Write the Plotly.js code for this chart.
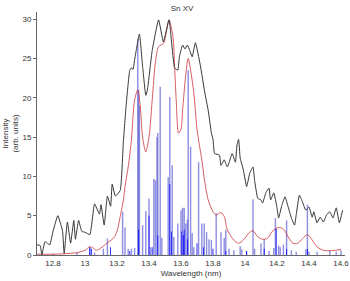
<!DOCTYPE html>
<html>
<head>
<meta charset="utf-8">
<script src="https://cdn.plot.ly/plotly-3.0.1.min.js"></script>
<style>html,body{margin:0;padding:0;background:#fff}#chart{width:350px;height:281px}</style>
</head>
<body>
<div id="chart"></div>
<script>
// Experimental spectrum (black)
const expWavelength = [12.70,12.72,12.73,12.75,12.77,12.78,12.80,12.83,12.85,12.86,12.87,12.89,12.91,12.93,12.94,12.96,12.98,13.00,13.03,13.06,13.09,13.10,13.12,13.14,13.16,13.17,13.19,13.22,13.24,13.26,13.28,13.29,13.30,13.31,13.34,13.36,13.38,13.39,13.42,13.46,13.49,13.525,13.56,13.58,13.59,13.61,13.625,13.64,13.655,13.67,13.69,13.72,13.75,13.77,13.79,13.80,13.81,13.84,13.85,13.87,13.89,13.92,13.94,13.95,13.96,13.97,13.99,14.01,14.03,14.05,14.06,14.08,14.10,14.11,14.13,14.15,14.16,14.18,14.20,14.21,14.23,14.25,14.27,14.29,14.31,14.32,14.34,14.36,14.38,14.40,14.42,14.43,14.45,14.47,14.49,14.51,14.53,14.55,14.57,14.59,14.61];
const expIntensity = [1.3,1.2,0.0,1.7,1.4,1.3,3.0,5.0,3.8,3.0,0.2,4.2,1.5,4.4,2.0,4.4,3.0,2.9,2.6,6.5,5.2,6.4,3.8,7.5,6.2,9.0,7.5,8.2,14.5,19.7,23.5,23.8,23.6,24.8,28.1,24.0,20.3,21.0,26.0,29.9,27.1,29.9,23.8,23.5,25.2,26.7,26.2,26.7,26.0,25.2,27.0,24.2,20.5,18.4,15.5,14.7,12.9,12.7,11.4,12.1,11.2,12.9,11.8,14.0,14.7,12.3,10.8,8.7,10.4,11.2,9.5,7.2,7.0,6.6,7.9,8.5,7.0,7.9,6.0,4.7,6.3,7.4,6.1,4.7,3.8,5.1,7.6,6.7,5.7,6.1,4.8,5.5,4.1,4.8,4.2,5.1,5.5,4.7,6.0,4.1,5.7];

// Convolved theoretical spectrum (red)
const theoWavelength = [12.70,12.80,12.90,12.95,13.00,13.03,13.05,13.07,13.10,13.13,13.15,13.18,13.20,13.22,13.24,13.25,13.27,13.29,13.31,13.33,13.345,13.36,13.38,13.40,13.42,13.44,13.46,13.49,13.51,13.525,13.55,13.56,13.57,13.585,13.60,13.61,13.63,13.645,13.66,13.68,13.70,13.71,13.73,13.75,13.77,13.80,13.82,13.85,13.87,13.89,13.93,13.96,13.99,14.02,14.05,14.08,14.11,14.14,14.17,14.21,14.24,14.27,14.30,14.33,14.36,14.39,14.42,14.45,14.49,14.54,14.60];
const theoIntensity = [0.1,0.1,0.2,0.3,0.6,1.05,0.9,0.6,0.9,1.4,1.7,2.2,3.0,4.9,7.0,8.7,11.2,14.6,19.7,21.0,19.0,15.0,13.1,15.0,19.7,24.5,26.5,26.9,28.5,29.9,27.7,24.0,19.7,15.5,16.0,18.4,23.0,25.0,23.5,20.6,16.0,14.6,12.1,9.1,7.0,5.5,5.1,5.4,4.9,3.2,1.9,1.5,1.9,2.7,3.1,2.3,2.0,2.1,3.0,3.5,3.3,2.3,1.5,1.5,2.1,2.6,1.9,1.05,0.6,0.55,0.7];

// Line strengths (light blue sticks)
const lineWavelength = [12.80,12.95,13.03,13.06,13.115,13.14,13.235,13.25,13.27,13.29,13.31,13.33,13.335,13.34,13.36,13.38,13.40,13.41,13.43,13.44,13.45,13.455,13.47,13.48,13.52,13.53,13.545,13.555,13.58,13.60,13.61,13.62,13.63,13.64,13.645,13.66,13.67,13.68,13.71,13.73,13.745,13.76,13.775,13.79,13.82,13.85,13.87,13.88,13.90,13.93,13.97,13.98,14.01,14.05,14.06,14.10,14.12,14.15,14.18,14.19,14.21,14.22,14.24,14.26,14.29,14.32,14.38,14.39,14.40,14.45,14.53,14.57,14.60];
const lineStrength = [0.2,0.3,1.0,0.3,0.8,2.1,5.5,3.5,0.8,0.8,0.9,27.5,21.0,19.0,3.8,5.6,7.2,1.0,9.7,9.5,15.0,15.5,21.4,2.2,9.9,20.1,11.4,2.3,4.0,5.7,6.0,6.0,4.0,4.5,23.5,13.8,2.8,1.0,11.8,4.0,4.0,2.9,2.0,1.9,5.3,2.9,2.2,3.2,0.8,0.6,1.1,0.7,0.5,7.1,0.8,1.5,2.0,0.5,0.9,4.7,1.2,1.0,1.3,4.4,0.6,0.4,0.7,6.4,0.4,0.4,0.6,0.4,0.6];

// Strong-component sticks (dark blue)
const darkWavelength = [13.03,13.04,13.16,13.28,13.335,13.40,13.42,13.455,13.53,13.54,13.605,13.615,13.62,13.64,13.70,13.74,13.80,13.88,14.01,14.12,14.195,14.26,14.39];
const darkStrength = [1.0,0.8,1.0,0.5,3.2,5.0,1.0,2.5,9.0,3.0,3.0,2.5,3.2,2.0,1.5,1.0,0.8,0.5,0.5,0.8,3.4,0.8,0.8];

const xTickVals = [12.8,13,13.2,13.4,13.6,13.8,14,14.2,14.4,14.6];
const xTickText = ['12.8','13','13.2','13.4','13.6','13.8','14','14.2','14.4','14.6'];
const yTickVals = [0,5,10,15,20,25,30];

const font = {family: 'Liberation Sans, Arial, sans-serif', size: 8, color: '#333'};

const traces = [
  {type: 'bar', x: lineWavelength, y: lineStrength, width: 0.009,
   marker: {color: 'rgba(90,90,212,0.68)', line: {width: 0}}, hoverinfo: 'skip'},
  {type: 'bar', x: darkWavelength, y: darkStrength, width: 0.0055,
   marker: {color: 'rgb(20,20,255)', line: {width: 0}}, hoverinfo: 'skip'},
  {type: 'scatter', mode: 'lines', x: theoWavelength, y: theoIntensity,
   line: {color: 'rgba(205,55,60,0.8)', width: 1, shape: 'spline', smoothing: 0.8}},
  {type: 'scatter', mode: 'lines', x: expWavelength, y: expIntensity,
   line: {color: 'rgb(55,55,55)', width: 1, shape: 'spline', smoothing: 0.4}}
];

const layout = {
  width: 350, height: 281,
  margin: {l: 37, r: 5, t: 12, b: 26},
  paper_bgcolor: '#fff', plot_bgcolor: '#fff',
  showlegend: false,
  barmode: 'overlay',
  font: font,
  title: {text: 'Sn XV', font: {family: font.family, size: 8, color: '#333'},
          x: 0.52, xanchor: 'center', y: 0.972, yanchor: 'middle'},
  xaxis: {
    range: [12.7, 14.625], tickvals: xTickVals, ticktext: xTickText,
    showgrid: false, zeroline: false, showline: true, linecolor: '#666', linewidth: 1,
    ticks: '', tickfont: font,
    title: {text: 'Wavelength (nm)', font: font, standoff: 3}
  },
  yaxis: {
    range: [0, 30.9], tickvals: yTickVals,
    showgrid: false, zeroline: false, showline: true, linecolor: '#666', linewidth: 1,
    ticks: 'outside', ticklen: 3, tickcolor: '#666', tickfont: font,
    title: {text: 'Intensity<br>(arb. units)', font: font, standoff: 2}
  }
};

Plotly.newPlot('chart', traces, layout, {displayModeBar: false, staticPlot: true});
</script>
</body>
</html>
